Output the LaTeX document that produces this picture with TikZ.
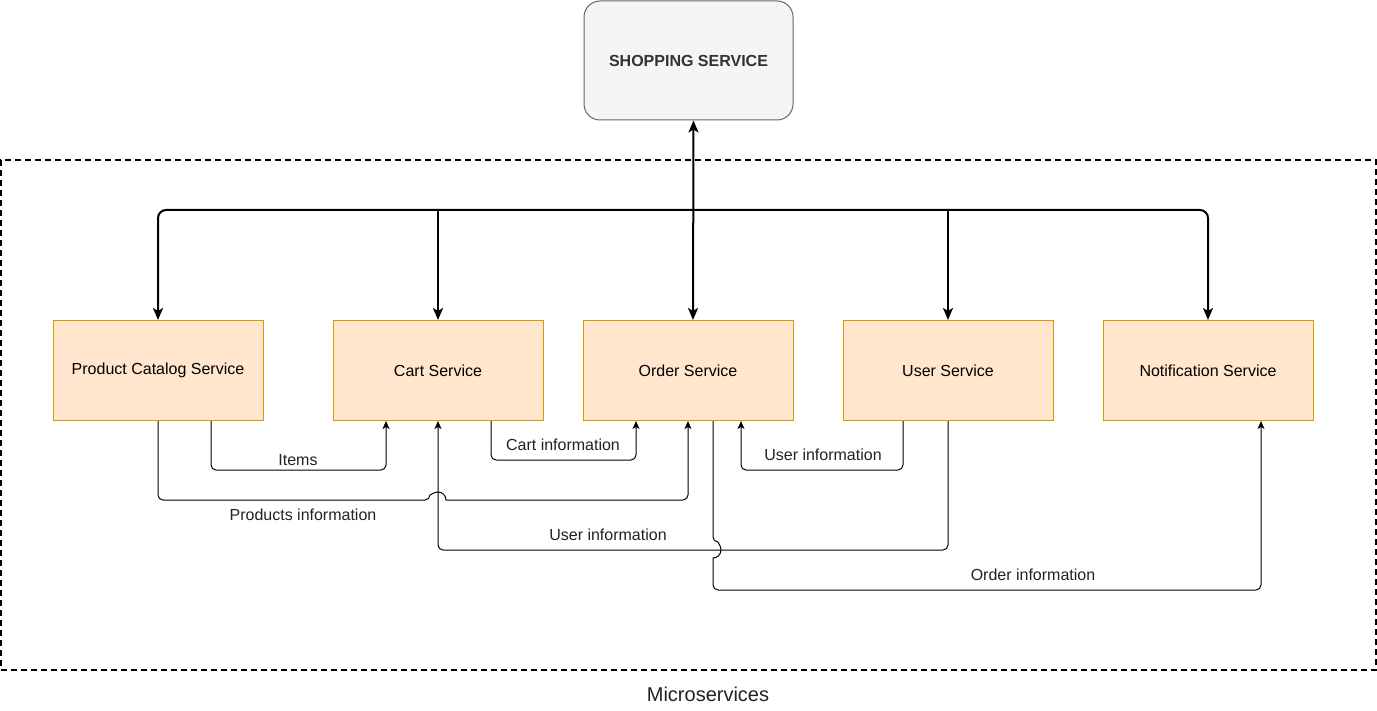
\documentclass[tikz,border=0pt]{standalone}
\usepackage{fontspec}
\setmainfont{Liberation Sans}
\usetikzlibrary{arrows.meta}
\definecolor{svcfill}{HTML}{FFE6CC}
\definecolor{svcdraw}{HTML}{D79B00}
\definecolor{shopfill}{HTML}{F5F5F5}
\definecolor{shopdraw}{HTML}{666666}
\definecolor{shoptext}{HTML}{333333}
\definecolor{lbltext}{HTML}{222222}
\begin{document}
\begin{tikzpicture}[x=1pt,y=-1pt,
  svc/.style={draw=svcdraw, fill=svcfill, line width=1pt, minimum width=210pt, minimum height=100pt, inner sep=0pt, font=\fontsize{16}{19}\selectfont, text=black},
  shop/.style={draw=shopdraw, fill=shopfill, line width=1pt, rounded corners=16pt, minimum width=209pt, minimum height=119pt, inner sep=0pt, font=\fontsize{16}{19}\selectfont\bfseries, text=shoptext},
  bus/.style={line width=2pt, -{Stealth[length=12pt,width=10pt,inset=3pt]}},
  flow/.style={line width=1pt, rounded corners=5pt, -{Stealth[length=8pt,width=7pt,inset=2pt]}},
  lbl/.style={font=\fontsize{16}{19}\selectfont, text=lbltext, inner sep=1pt}
]
\useasboundingbox (0,0) rectangle (1377,711);
% container
\node[draw, line width=1.5pt, dash pattern=on 6pt off 4pt, minimum width=1375pt, minimum height=510pt, inner sep=0pt] (micro) at (688.5,415) {};
\node[font=\fontsize{20}{24}\selectfont, text=lbltext] (microlbl) at (708,694) {Microservices};
% nodes
\node[shop] (shop) at (688.5,60.5) {SHOPPING SERVICE};
\node[svc] (prod) at (158,370.5) {Product Catalog Service};
\node[svc] (cart) at (438,370.5) {Cart Service};
\node[svc] (order) at (688,370.5) {Order Service};
\node[svc] (user) at (948,370.5) {User Service};
\node[svc] (notif) at (1208,370.5) {Notification Service};
% bus
\coordinate (hub) at (693,210);
\draw[bus, {Stealth[length=12pt,width=10pt,inset=3pt]}-{Stealth[length=12pt,width=10pt,inset=3pt]}] ([xshift=5pt]shop.south) -- ([xshift=5pt]order.north);
\draw[bus, rounded corners=8pt] (hub) -| (prod.north);
\draw[bus, rounded corners=8pt] (hub) -| (notif.north);
\draw[bus] (cart.north |- hub) -- (cart.north);
\draw[bus] (user.north |- hub) -- (user.north);
% flows
\draw[flow] ([xshift=53pt]prod.south) |- (298,470) -| ([xshift=-52pt]cart.south);
\node[lbl] (itemslbl) at (298,460) {Items};
\draw[flow] (prod.south) |- (430,500) [sharp corners] arc[start angle=180, end angle=360, radius=8] [rounded corners=5pt] -| (order.south);
\node[lbl] (prodlbl) at (303,515) {Products information};
\draw[flow] ([xshift=53pt]cart.south) |- (563,460) -| ([xshift=-52pt]order.south);
\node[lbl] (cartlbl) at (563,445) {Cart information};
\draw[flow] ([xshift=-45pt]user.south) |- (823,470) -| ([xshift=53pt]order.south);
\node[lbl] (uo) at (823,455) {User information};
\draw[flow] (user.south) |- (608,550) -| (cart.south);
\node[lbl] (uc) at (608,535) {User information};
\draw[flow] ([xshift=25pt]order.south) -- (713,542) [sharp corners] arc[start angle=-90, end angle=90, radius=8] [rounded corners=5pt] |- (1033,590) -| ([xshift=53pt]notif.south);
\node[lbl] (ordlbl) at (1033,575) {Order information};
\end{tikzpicture}
\end{document}
